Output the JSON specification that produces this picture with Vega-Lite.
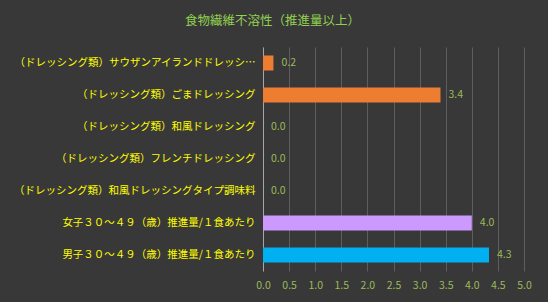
{
  "$schema": "https://vega.github.io/schema/vega-lite/v6.json",
  "width": 261,
  "height": 224,
  "autosize": {"type": "none"},
  "padding": {"left": 263, "top": 47, "right": 24, "bottom": 31},
  "background": "#383838",
  "title": {
    "text": "食物繊維不溶性（推進量以上）",
    "font": "Noto Sans CJK JP",
    "fontSize": 12.5,
    "fontWeight": "normal",
    "color": "#92D050",
    "anchor": "middle",
    "frame": "bounds",
    "offset": 20
  },
  "config": {
    "view": {"stroke": null},
    "font": "Noto Sans CJK JP"
  },
  "data": {
    "values": [
      {"name": "（ドレッシング類）サウザンアイランドドレッシング", "value": 0.2, "group": "dressing"},
      {"name": "（ドレッシング類）ごまドレッシング", "value": 3.4, "group": "dressing"},
      {"name": "（ドレッシング類）和風ドレッシング", "value": 0.0, "group": "dressing"},
      {"name": "（ドレッシング類）フレンチドレッシング", "value": 0.0, "group": "dressing"},
      {"name": "（ドレッシング類）和風ドレッシングタイプ調味料", "value": 0.0, "group": "dressing"},
      {"name": "女子３０～４９（歳）推進量/１食あたり", "value": 4.0, "group": "female"},
      {"name": "男子３０～４９（歳）推進量/１食あたり", "value": 4.33, "group": "male"}
    ]
  },
  "encoding": {
    "y": {
      "field": "name",
      "type": "nominal",
      "sort": null,
      "scale": {"paddingInner": 0.53, "paddingOuter": 0.265},
      "axis": {
        "title": null,
        "ticks": false,
        "domain": true,
        "domainColor": "#A6A6A6",
        "domainWidth": 1,
        "labelColor": "#FFFF00",
        "labelFont": "Noto Sans CJK JP",
        "labelFontSize": 10.5,
        "labelPadding": 8,
        "labelLimit": 245
      }
    },
    "x": {
      "field": "value",
      "type": "quantitative",
      "scale": {"domain": [0, 5], "nice": false},
      "axis": {
        "title": null,
        "values": [0, 0.5, 1, 1.5, 2, 2.5, 3, 3.5, 4, 4.5, 5],
        "format": ".1f",
        "domain": false,
        "ticks": false,
        "grid": true,
        "gridColor": "#5E5E5E",
        "gridWidth": 1,
        "labelColor": "#9BBB59",
        "labelFont": "Noto Sans CJK JP",
        "labelFontSize": 10.5,
        "labelPadding": 9,
        "labelFlush": false
      }
    }
  },
  "layer": [
    {
      "mark": {"type": "bar"},
      "encoding": {
        "color": {
          "field": "group",
          "type": "nominal",
          "scale": {"domain": ["dressing", "female", "male"], "range": ["#ED7D31", "#CC99FF", "#00B0F0"]},
          "legend": null
        }
      }
    },
    {
      "mark": {"type": "text", "align": "left", "baseline": "middle", "dx": 8, "fontSize": 10.5, "color": "#9BBB59", "font": "Noto Sans CJK JP"},
      "encoding": {
        "text": {"field": "value", "type": "quantitative", "format": ".1f"}
      }
    }
  ]
}
